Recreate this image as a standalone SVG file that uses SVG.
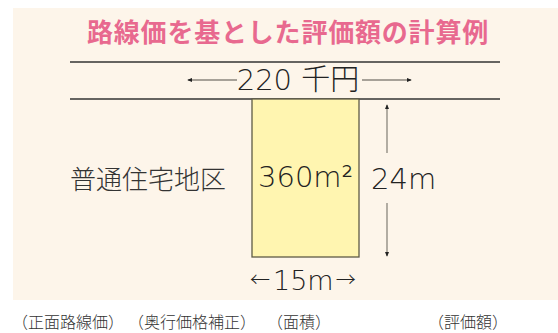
<svg xmlns="http://www.w3.org/2000/svg" width="558" height="333" viewBox="0 0 558 333">
<style>
.jp{font-family:"Noto Sans CJK JP","Noto Sans",sans-serif;font-weight:300;fill:#333}
.num{font-family:"DejaVu Sans","Noto Sans CJK JP",sans-serif;font-weight:200;fill:#222}
.road{stroke:#333;stroke-width:1.3;fill:none}
.dim{stroke:#8a857c;stroke-width:1.3;fill:none}
</style>
<defs>
<marker id="ah" viewBox="0 0 6 6" refX="5" refY="3" markerWidth="5" markerHeight="5" orient="auto-start-reverse" markerUnits="userSpaceOnUse">
<path d="M0,0.5 L6,3 L0,5.5 Z" fill="#222"/>
</marker>
</defs>
<rect x="13" y="8" width="545" height="292" fill="#fdf5ea"/>
<text id="title" x="87" y="42" font-family="Noto Sans CJK JP,sans-serif" font-weight="bold" font-size="26" letter-spacing="0.8" fill="#e8698f">路線価を基とした評価額の計算例</text>
<g id="road">
<line class="road" x1="70" y1="62" x2="500" y2="62"/>
<line class="road" x1="70" y1="99" x2="500" y2="99"/>
<text class="num" x="298" y="90" font-size="29" text-anchor="middle">220 千円</text>
</g>
<g id="lot">
<rect x="252" y="99" width="107" height="158" fill="#fff5b0" stroke="#5e5a45" stroke-width="1.3"/>
<text class="num" x="258" y="187" font-size="29">360m²</text>
</g>
<g id="district">
<text class="jp" x="70" y="189" font-size="26">普通住宅地区</text>
</g>
<g id="connectors">
<line class="dim" x1="237" y1="80" x2="188" y2="80" marker-end="url(#ah)"/>
<line class="dim" x1="362" y1="80" x2="411" y2="80" marker-end="url(#ah)"/>
<line class="dim" x1="387" y1="153" x2="387" y2="105" marker-end="url(#ah)"/>
<line class="dim" x1="387" y1="203" x2="387" y2="256" marker-end="url(#ah)"/>
</g>
<g id="depth">
<text class="num" x="371" y="189" font-size="29">24m</text>
</g>
<g id="frontage">
<text class="num" x="250" y="290" font-size="27"><tspan font-family="Noto Sans CJK JP,sans-serif" font-size="20" dy="-3">←</tspan><tspan dy="3" dx="3">15m</tspan><tspan font-family="Noto Sans CJK JP,sans-serif" font-size="20" dy="-3" dx="2">→</tspan></text>
</g>
<g id="labels">
<text class="jp" x="12" y="328" font-size="16">（正面路線価）</text>
<text class="jp" x="128" y="328" font-size="16">（奥行価格補正）</text>
<text class="jp" x="267" y="328" font-size="16">（面積）</text>
<text class="jp" x="428" y="328" font-size="16">（評価額）</text>
</g>
</svg>
